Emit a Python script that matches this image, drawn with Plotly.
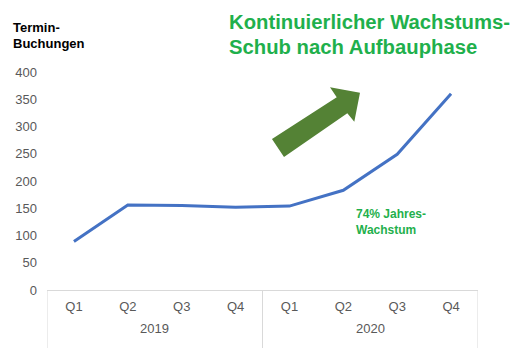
import plotly.graph_objects as go

years = ["2019", "2020"]
quarters = ["Q1", "Q2", "Q3", "Q4", "Q1", "Q2", "Q3", "Q4"]
bookings = [89, 156, 155, 152, 154, 183, 249, 360]
y_ticks = [0, 50, 100, 150, 200, 250, 300, 350, 400]

GREEN = "#1FB04C"
ARROW = "#548235"
GRAY = "#595959"
AXIS = "#D9D9D9"
FONT = "Liberation Sans, Arial, sans-serif"

W, H = 510, 348
L, R, T, B = 47, 32, 72, 58
pw, ph = W - L - R, H - T - B

xs = list(range(len(quarters)))

fig = go.Figure()
fig.add_trace(go.Scatter(
    x=xs, y=bookings, mode="lines",
    line=dict(color="#4472C4", width=3), hoverinfo="skip", showlegend=False,
))

fig.update_layout(
    width=W, height=H,
    margin=dict(l=L, r=R, t=T, b=B),
    paper_bgcolor="white", plot_bgcolor="white",
    font=dict(family=FONT, size=13, color=GRAY),
    xaxis=dict(
        range=[-0.5, len(quarters) - 0.5], tickvals=xs, ticktext=quarters,
        showgrid=False, zeroline=False, showline=True, linecolor=AXIS,
        linewidth=1, ticks="", ticklabelstandoff=4,
        tickfont=dict(size=13, color=GRAY),
    ),
    yaxis=dict(
        range=[0, 400], tickvals=y_ticks, showgrid=False, zeroline=False,
        showline=False, ticks="", tickfont=dict(size=13, color=GRAY),
        ticklabelstandoff=9,
    ),
)

def py(p):
    return 1 - (p - T) / ph

def pxx(p):
    return (p - L) / pw

# Year group labels and dividers below the quarter ticks
shapes = []
for i, yr in enumerate(years):
    fig.add_annotation(
        x=i * 4 + 1.5, y=py(328), xref="x", yref="paper", yanchor="middle",
        showarrow=False, text=yr, font=dict(size=13, color=GRAY, family=FONT),
    )
for xv in [-0.5, 3.5, 7.5]:
    shapes.append(dict(type="line", xref="x", yref="paper", x0=xv, x1=xv,
                       y0=0, y1=py(348), line=dict(color=AXIS, width=1)))

# Growth arrow
pts = [(272, 139), (336.7, 97.3), (330, 87.3), (360, 92.7),
       (354.3, 121.7), (347.3, 113.3), (284, 157)]
path = "M " + " L ".join(f"{pxx(a):.4f},{py(b):.4f}" for a, b in pts) + " Z"
shapes.append(dict(type="path", xref="paper", yref="paper", path=path,
                   fillcolor=ARROW, line=dict(width=0)))
fig.layout.shapes = shapes

def text_line(x, y, s, size, color):
    fig.add_annotation(
        x=pxx(x), y=py(y), xref="paper", yref="paper",
        xanchor="left", yanchor="middle", showarrow=False,
        text=f"<b>{s}</b>", font=dict(size=size, color=color, family=FONT),
    )

text_line(11, 27.5, "Termin-", 13, "black")
text_line(11, 43.5, "Buchungen", 13, "black")
text_line(227, 22, "Kontinuierlicher Wachstums-", 20.3, GREEN)
text_line(227, 47, "Schub nach Aufbauphase", 20.3, GREEN)
text_line(354, 213.5, "74% Jahres-", 12, GREEN)
text_line(354, 229.5, "Wachstum", 12, GREEN)

fig.write_html("out.html")
